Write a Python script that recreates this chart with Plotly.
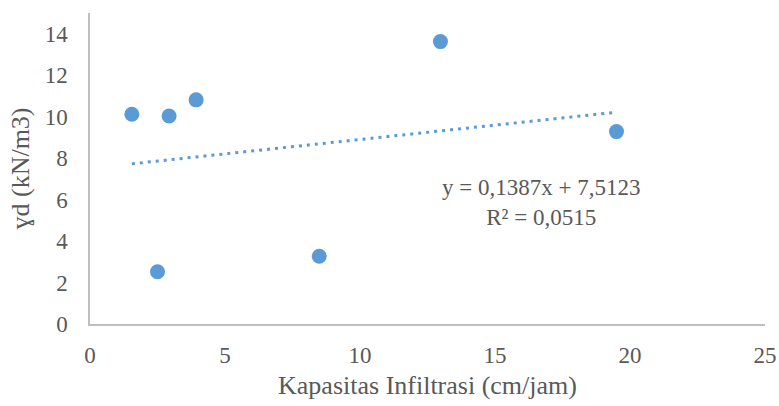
import plotly.graph_objects as go

# Data
kapasitas_infiltrasi = [1.55, 2.5, 2.93, 3.93, 8.49, 12.98, 19.5]
gamma_d = [10.12, 2.52, 10.03, 10.81, 3.27, 13.62, 9.28]

trend_slope = 0.1387
trend_intercept = 7.5123
equation_text = "y = 0,1387x + 7,5123<br>R² = 0,0515"

x_ticks = [0, 5, 10, 15, 20, 25]
y_ticks = [0, 2, 4, 6, 8, 10, 12, 14]

blue = "#5B9BD5"
font_family = "Liberation Serif"
tick_color = "#595959"

x_min, x_max = min(kapasitas_infiltrasi), max(kapasitas_infiltrasi)
trend_x = [x_min, x_max]
trend_y = [trend_slope * v + trend_intercept for v in trend_x]

fig = go.Figure()
fig.add_trace(go.Scatter(
    x=trend_x, y=trend_y, mode="lines",
    line=dict(color=blue, width=3, dash="3px,5px"),
    showlegend=False, hoverinfo="skip"))
fig.add_trace(go.Scatter(
    x=kapasitas_infiltrasi, y=gamma_d, mode="markers",
    marker=dict(color=blue, size=15, line=dict(width=0)),
    showlegend=False))

fig.add_annotation(
    x=16.7, y=5.84, xref="x", yref="y", text=equation_text,
    showarrow=False, align="center",
    font=dict(family=font_family, size=23, color=tick_color))

fig.update_layout(
    width=779, height=406,
    margin=dict(l=90, r=14, t=13, b=82, autoexpand=False),
    paper_bgcolor="white", plot_bgcolor="white",
    font=dict(family=font_family, color=tick_color),
    xaxis=dict(
        range=[0, 25], tickvals=x_ticks, showgrid=False, zeroline=False,
        showline=True, linecolor="#BFBFBF", linewidth=1.5, ticks="",
        automargin=False,
        tickfont=dict(family=font_family, size=23, color=tick_color), ticklabelstandoff=10,
        title=dict(text="Kapasitas Infiltrasi (cm/jam)", standoff=8,
                   font=dict(family=font_family, size=26, color=tick_color))),
    yaxis=dict(
        range=[0, 15], tickvals=y_ticks, showgrid=False, zeroline=False,
        showline=True, linecolor="#BFBFBF", linewidth=1.5, ticks="",
        automargin=False,
        tickfont=dict(family=font_family, size=23, color=tick_color), ticklabelstandoff=16,
        title=dict(text="ɣd (kN/m3)", standoff=8,
                   font=dict(family=font_family, size=26, color=tick_color))),
)

fig.write_html(
    "out.html",
    config={"displayModeBar": False},
    post_script="document.body.style.margin='0';document.body.style.overflow='hidden';",
)
